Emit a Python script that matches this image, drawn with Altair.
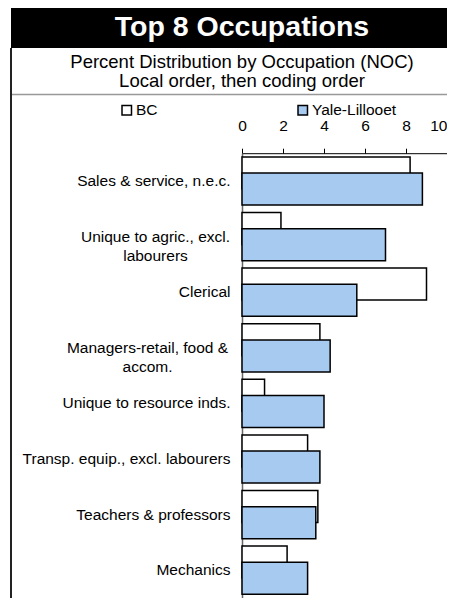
import altair as alt
import pandas as pd

F = "Liberation Sans, Arial, sans-serif"

title = ["Top 8 Occupations"]
subtitle1 = ["Percent Distribution by Occupation (NOC)"]
subtitle2 = ["Local order, then coding order"]

categories = [
    "Sales & service, n.e.c.",
    "Unique to agric., excl.|labourers",
    "Clerical",
    "Managers-retail, food &|accom.",
    "Unique to resource inds.",
    "Transp. equip., excl. labourers",
    "Teachers & professors",
    "Mechanics",
]
series_names = ["BC", "Yale-Lillooet"]
bc_values = [8.2, 1.9, 9.0, 3.8, 1.1, 3.2, 3.7, 2.2]
yale_values = [8.8, 7.0, 5.6, 4.3, 4.0, 3.8, 3.6, 3.2]
x_ticks = [0, 2, 4, 6, 8, 10]

rows = []
for c, b, y in zip(categories, bc_values, yale_values):
    rows.append({"cat": c, "series": series_names[0], "value": b})
    rows.append({"cat": c, "series": series_names[1], "value": y})
df = pd.DataFrame(rows)

base = alt.Chart(df)

x_enc = alt.X(
    "value:Q",
    scale=alt.Scale(domain=[0, 10], nice=False, zero=True),
    axis=alt.Axis(
        orient="top", values=x_ticks, title=None, grid=False,
        tickSize=5, tickColor="black", tickWidth=1,
        domainColor="black", domainWidth=1,
        labelFont=F, labelFontSize=15.5, labelColor="black",
        labelBaseline="alphabetic", labelPadding=17.5, labelFlush=False,
        labelAlign={
            "condition": {"test": "datum.value >= 10", "value": "right"},
            "value": "center",
        },
    ),
)
y_enc = alt.Y(
    "cat:N",
    sort=categories,
    scale=alt.Scale(paddingInner=0, paddingOuter=0),
    axis=alt.Axis(
        title=None, ticks=False, domainColor="#666666", domainWidth=1.5,
        labelFont=F, labelFontSize=15.5, labelColor="black",
        labelAlign={
            "condition": {"test": "indexof(datum.value, '|') >= 0", "value": "center"},
            "value": "right",
        },
        labelPadding={
            "condition": [
                {"test": "indexof(datum.value, 'agric') >= 0", "value": 87},
                {"test": "indexof(datum.value, 'Managers') >= 0", "value": 95},
            ],
            "value": 12,
        },
        labelLimit=300,
        labelLineHeight=19,
        labelExpr="split(datum.label, '|')",
    ),
)
fill_enc = alt.Fill(
    "series:N",
    scale=alt.Scale(domain=series_names, range=["#FFFFFF", "#A6CAF0"]),
    legend=alt.Legend(
        orient="none", direction="horizontal", legendX=-123, legendY=-51,
        title=None, symbolType="square", symbolSize=90,
        symbolStrokeColor="black", symbolStrokeWidth=1.5,
        labelFont=F, labelFontSize=15.5, labelColor="black",
        columnPadding=137, labelOffset=1.5, padding=0,
    ),
)

bc_layer = base.transform_filter(alt.datum.series == "BC").mark_bar(
    size=32, yOffset=-8.1, stroke="black", strokeWidth=1.5
).encode(x=x_enc, y=y_enc, fill=fill_enc)

yale_layer = base.transform_filter(alt.datum.series == "Yale-Lillooet").mark_bar(
    size=32, yOffset=8.1, stroke="black", strokeWidth=1.5
).encode(x=x_enc, y=y_enc, fill=fill_enc)

tdf = pd.DataFrame({"text": title})
s1 = pd.DataFrame({"text": subtitle1})
s2 = pd.DataFrame({"text": subtitle2})

title_box = alt.Chart(tdf).mark_rect(color="black").encode(
    x=alt.value(-231), x2=alt.value(213), y=alt.value(-145.2), y2=alt.value(-105.2)
)
title_text = alt.Chart(tdf).mark_text(
    align="center", baseline="alphabetic", fontSize=28.5, fontWeight="bold",
    color="white", font=F
).encode(x=alt.value(0), y=alt.value(-117.5), text="text:N")
sub1 = alt.Chart(s1).mark_text(
    align="center", baseline="alphabetic", fontSize=18.5, color="black", font=F
).encode(x=alt.value(0), y=alt.value(-85.5), text="text:N")
sub2 = alt.Chart(s2).mark_text(
    align="center", baseline="alphabetic", fontSize=18.5, color="black", font=F
).encode(x=alt.value(0), y=alt.value(-66.5), text="text:N")
gray_line = alt.Chart(tdf).mark_rule(color="#999999", strokeWidth=1.5).encode(
    x=alt.value(-231), x2=alt.value(213), y=alt.value(-58.7)
)
left_border = alt.Chart(tdf).mark_rule(color="#222222", strokeWidth=2).encode(
    x=alt.value(-231), y=alt.value(-105.2), y2=alt.value(460)
)

chart = alt.layer(
    title_box, title_text, sub1, sub2, gray_line, left_border, bc_layer, yale_layer
).properties(
    width=205, height=444.8,
    padding={"left": 234, "top": 145.2, "right": 0, "bottom": 0},
    autosize=alt.AutoSizeParams(type="none"),
    background="white",
).configure_view(stroke=None)

chart.save("out.html", embed_options={"renderer": "svg", "actions": False})
